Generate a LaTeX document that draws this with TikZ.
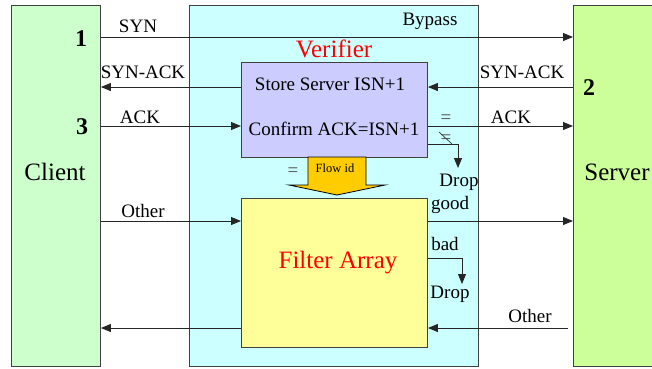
\documentclass[tikz,border=0pt]{standalone}
\usepackage{fontspec}
\setmainfont{Liberation Serif}
\newfontfamily\labelfont{Liberation Serif}
\usetikzlibrary{arrows.meta}
\definecolor{clientfill}{HTML}{CCFFCC}
\definecolor{serverfill}{HTML}{CCFF99}
\definecolor{verifill}{HTML}{CCFFFF}
\definecolor{storefill}{HTML}{CCCCFF}
\definecolor{filterfill}{HTML}{FFFF99}
\definecolor{flowfill}{HTML}{FFCC00}
\tikzset{
  box/.style={draw=black!75, line width=0.9pt, inner sep=0pt, anchor=north west},
  txt/.style={inner sep=0pt, font=\labelfont\fontsize{19}{21}\selectfont},
  big/.style={inner sep=0pt, font=\labelfont\fontsize{25}{28}\selectfont},
  num/.style={inner sep=0pt, font=\labelfont\fontsize{24}{26}\selectfont\bfseries},
  msg/.style={draw=black!85, line width=0.9pt, -{Triangle[length=10pt,width=8pt]}}
}
\begin{document}
\begin{tikzpicture}[x=1pt,y=-1pt]
\useasboundingbox (0,0) rectangle (652,368);
\clip (0,0) rectangle (652,368);

% hosts and the verifier
\node[box, fill=clientfill, minimum width=89pt, minimum height=361pt] (client) at (11,5) {};
\node[box, fill=serverfill, minimum width=140pt, minimum height=361pt] (server) at (573,5) {};
\node[box, fill=verifill, minimum width=289pt, minimum height=361pt] (verifier) at (189,5) {};
\node[box, fill=storefill, minimum width=186pt, minimum height=95pt] (store) at (241,62) {};
\node[box, fill=filterfill, minimum width=186pt, minimum height=149pt] (filter) at (241,198) {};

% flow id arrow
\draw[draw=black, line width=0.8pt, fill=flowfill]
  (308,157) -- (366,157) -- (366,185) -- (385,185) -- (337,195)
  -- (289,185) -- (308,185) -- cycle;
\node[inner sep=0pt, font=\labelfont\fontsize{12.5}{14}\selectfont] (flowid) at (335,168) {Flow id};

% row heights of the messages
\coordinate (ySyn) at (0,37);
\coordinate (ySynAck) at (0,87);
\coordinate (yAck) at (0,126);
\coordinate (yBad) at (0,144);
\coordinate (yOther) at (0,221);
\coordinate (yDrop) at (0,258);
\coordinate (yBack) at (0,328);

% handshake
\draw[msg] (client.east |- ySyn) -- (server.west |- ySyn);
\draw[msg] (server.west |- ySynAck) -- (store.east |- ySynAck);
\draw[msg] (store.west |- ySynAck) -- (client.east |- ySynAck);
\draw[msg] (client.east |- yAck) -- (store.west |- yAck);
\draw[msg] (store.east |- yAck) -- (server.west |- yAck);
\coordinate (dropA) at (458,144);
\coordinate (dropAend) at (458,168);
\draw[msg] (store.east |- yBad) -- (dropA) -- (dropAend);

% other traffic through the filter array
\draw[msg] (client.east |- yOther) -- (filter.west |- yOther);
\draw[msg] (filter.east |- yOther) -- (server.west |- yOther);
\coordinate (dropB) at (462,258);
\coordinate (dropBend) at (462,284);
\draw[msg] (filter.east |- yDrop) -- (dropB) -- (dropBend);
\coordinate (otherStart) at (568,328);
\draw[msg] (otherStart) -- (filter.east |- yBack);
\draw[msg] (filter.west |- yBack) -- (client.east |- yBack);

% labels
\node[txt] (lSyn) at (138,26) {SYN};
\node[num] (n1) at (81,39) {1};
\node[txt] (lBypass) at (430,21) {Bypass};
\node[big, text=red] (lVerifier) at (334,49) {Verifier};
\node[txt] (lSynAckL) at (143,72) {SYN-ACK};
\node[txt] (lSynAckR) at (522,72) {SYN-ACK};
\node[num] (n2) at (589,88) {2};
\node[txt] (lStore) at (330,84) {Store Server ISN+1};
\node[txt] (lConfirm) at (334,129) {Confirm ACK=ISN+1};
\node[txt] (lAckL) at (140,117) {ACK};
\node[txt] (lAckR) at (511,117) {ACK};
\node[num] (n3) at (82,127) {3};
\node[txt, text=black!70] (lEq) at (446,119) {=};
\node[txt, text=black!70] (lNeq) at (446,139) {=};
\draw[black!80, line width=0.7pt] (439,132) -- (452,144);
\node[big] (lClient) at (55,172) {Client};
\node[big] (lServer) at (617,172) {Server};
\node[txt, text=black!70] (lEq2) at (293,172) {=};
\node[txt] (lDropA) at (459,182) {Drop};
\node[txt] (lOtherL) at (143,211) {Other};
\node[big, text=red] (lFilter) at (338,263) {Filter Array};
\node[txt] (lGood) at (450,205) {good};
\node[txt] (lBadl) at (445,244) {bad};
\node[txt] (lDropB) at (450,294) {Drop};
\node[txt] (lOtherR) at (530,316) {Other};
\end{tikzpicture}
\end{document}
